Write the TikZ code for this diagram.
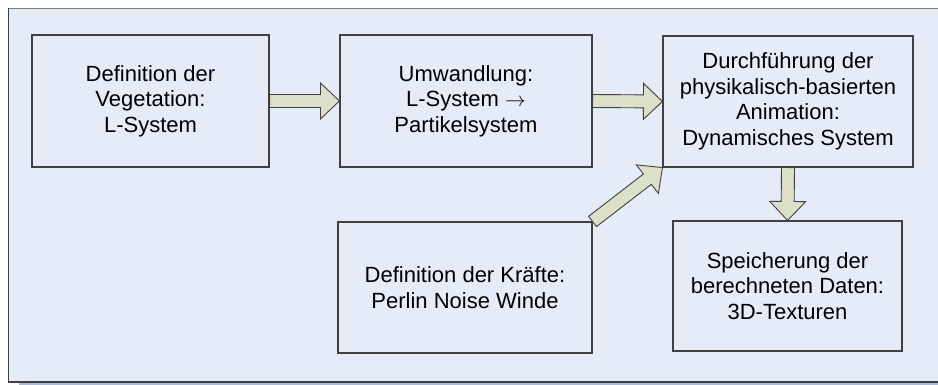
\documentclass[tikz,border=0pt]{standalone}
\usepackage{fontspec}
\setmainfont{Liberation Sans}
\usetikzlibrary{calc}

\definecolor{framebg}{HTML}{E6ECF7}
\definecolor{arrowbg}{HTML}{DDE0C8}
\definecolor{linegray}{HTML}{404040}
\definecolor{shadowblue}{HTML}{A8BAD8}

\tikzset{
  stepbox/.style={draw=linegray, line width=1.1pt, align=center, inner sep=0pt,
    font=\fontsize{22}{25.5}\selectfont},
  fatarrow/.style={draw=linegray, fill=arrowbg, line width=0.9pt, line join=miter}
}

% block arrow from #1 to #2
\newcommand{\blockarrow}[2]{%
  \coordinate (s) at (#1);
  \coordinate (t) at (#2);
  \coordinate (h) at ($(t)!19pt!(s)$);
  \draw[fatarrow] ($(s)!6.5pt!90:(t)$) -- ($(h)!6.5pt!90:(t)$) -- ($(h)!18pt!90:(t)$)
    -- (t) -- ($(h)!18pt!-90:(t)$) -- ($(h)!6.5pt!-90:(t)$) -- ($(s)!6.5pt!-90:(t)$) -- cycle;
}

\begin{document}
\begin{tikzpicture}[x=1pt, y=-1pt]
\useasboundingbox (0,0) rectangle (938,385);
\fill[shadowblue] (19,382) rectangle (938,385);
\fill[framebg] (8.5,8.5) rectangle (945,382);
\draw[gray, line width=1.2pt] (945,8.5) -- (8.5,8.5);
\draw[linegray, line width=1.4pt] (8.5,8.5) -- (8.5,382) -- (945,382);

\node[stepbox, minimum width=237pt, minimum height=132pt] (B1) at (150.5,101)
  {Definition der\\Vegetation:\\L-System};
\node[stepbox, minimum width=252pt, minimum height=132pt] (B2) at (466,101)
  {Umwandlung:\\L-System $\rightarrow$\\Partikelsystem};
\node[stepbox, minimum width=250pt, minimum height=131pt] (B3) at (788,101.5)
  {Durchführung der\\physikalisch-basierten\\Animation:\\Dynamisches System};
\node[stepbox, minimum width=254pt, minimum height=131pt] (B4) at (465,287.5)
  {Definition der Kräfte:\\Perlin Noise Winde};
\node[stepbox, minimum width=229pt, minimum height=130pt] (B5) at (787.5,286)
  {Speicherung der\\berechneten Daten:\\3D-Texturen};

\blockarrow{B1.east}{B2.west}
\blockarrow{B2.east}{B3.west}
\blockarrow{B3.south}{B5.north}
\blockarrow{B4.north east}{B3.south west}
\end{tikzpicture}
\end{document}
